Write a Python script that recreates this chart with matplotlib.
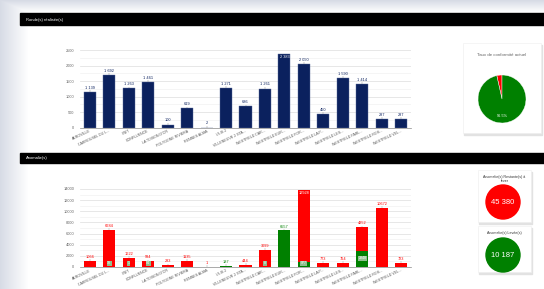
import numpy as np
import matplotlib.pyplot as plt
from matplotlib.patches import Rectangle, Circle

plt.rcParams['font.family'] = ['Liberation Sans', 'DejaVu Sans']

W, H = 544, 289

sites = ["AEROVILLE", "CARROUSEL DU L...", "CNIT", "CONFLUENCE", "LA TOISON D'OR",
         "POLYGONE RIVIERA", "RENNES ALMA", "ULIS 2", "VILLENEUVE 2 STA...",
         "WESTFIELD CAR...", "WESTFIELD EUR...", "WESTFIELD FOR...", "WESTFIELD LA P...",
         "WESTFIELD LES...", "WESTFIELD PARL...", "WESTFIELD ROS...", "WESTFIELD VEL..."]
rondes = [1139, 1692, 1263, 1461, 100, 619, 2, 1271, 686, 1261, 2383, 2050, 450, 1590, 1414, 287, 287]
anom_restantes = [1066, 6684, 1622, 934, 283, 1135, 1, 0, 444, 3099, 0, 12928, 773, 764, 4252, 10672, 723]
anom_levees = [0, 18, 1, 84, 0, 0, 0, 187, 0, 8, 6557, 977, 0, 0, 2848, 0, 0]
conformite = [3.5, 96.5]
total_restantes = "45 380"
total_levees = "10 187"

NAVY = "#0b215e"
RED = "#ff0000"
GREEN = "#008000"


def box(x0, y0, x1, y1):
    return [x0 / W, 1 - y1 / H, (x1 - x0) / W, (y1 - y0) / H]


def fmt(v):
    return f"{v:,}".replace(",", " ")


fig = plt.figure(figsize=(W / 100, H / 100), dpi=100)
bg = fig.add_axes([0, 0, 1, 1])
bg.set_xlim(0, W)
bg.set_ylim(H, 0)
bg.axis("off")

# fond flou a gauche / en haut
grad = np.ones((H, W, 4))
xs = np.clip(1 - np.arange(W) / 28.0, 0, 1)
ys = np.clip(1 - np.arange(H) / 12.0, 0, 1)
a = np.maximum(xs[None, :], ys[:, None]) * 0.55
grad[..., 0] = 0.72
grad[..., 1] = 0.75
grad[..., 2] = 0.82
grad[..., 3] = a
bg.imshow(grad, extent=[0, W, H, 0], aspect="auto", zorder=0)

# bandeaux noirs
bg.add_patch(Rectangle((20, 13), 524, 12, color="black", zorder=2))
bg.text(26, 19.5, "Ronde(s) réalisée(s)", color="white", fontsize=3, va="center", zorder=3)
bg.add_patch(Rectangle((20, 153), 524, 10, color="black", zorder=2))
bg.text(26, 158.5, "Anomalie(s)", color="white", fontsize=3, va="center", zorder=3)

# cartes
for (x0, y0, x1, y1) in [(463, 43, 541, 133), (478, 170, 531, 222), (478, 226, 531, 272)]:
    bg.add_patch(Rectangle((x0 + 1, y0 + 1.5), x1 - x0, y1 - y0, color="#e2e2e2", zorder=2))
    bg.add_patch(Rectangle((x0, y0), x1 - x0, y1 - y0, facecolor="white",
                           edgecolor="#eeeeee", lw=0.4, zorder=2))

bg.text(502, 55, "Taux de conformité actuel", fontsize=3.2, color="#666666",
        ha="center", va="center", zorder=3)
bg.text(504.5, 179, "Anomalie(s) Restante(s) à\nlever", fontsize=2.6, color="#333333",
        ha="center", va="center", linespacing=1.1, zorder=3)
bg.add_patch(Circle((503, 202), 17, color=RED, zorder=3))
bg.text(503, 202.5, total_restantes, fontsize=5.5, color="white", ha="center", va="center", zorder=4)
bg.text(504.5, 233, "Anomalie(s) Levée(s)", fontsize=2.6, color="#333333",
        ha="center", va="center", zorder=3)
bg.add_patch(Circle((503, 255), 17, color=GREEN, zorder=3))
bg.text(503, 255.5, total_levees, fontsize=5.5, color="white", ha="center", va="center", zorder=4)

x = np.arange(len(sites))


def style(ax, top, step):
    ax.set_xlim(-0.5, len(sites) - 0.5)
    ax.set_ylim(0, top)
    ax.set_yticks(np.arange(0, top + 1, step))
    ax.set_yticks(np.arange(step / 2, top, step), minor=True)
    ax.grid(axis="y", which="major", color="#dddddd", lw=0.5)
    ax.grid(axis="y", which="minor", color="#eeeeee", lw=0.4)
    ax.set_axisbelow(True)
    for s in ["top", "right", "left"]:
        ax.spines[s].set_visible(False)
    ax.spines["bottom"].set_color("#888888")
    ax.spines["bottom"].set_linewidth(0.5)
    ax.tick_params(axis="y", which="both", length=0, labelsize=2.8, labelcolor="#666666", pad=4)
    ax.tick_params(axis="x", length=0, labelsize=2.6, labelcolor="#555555", pad=1)
    ax.set_xticks(x)
    ax.set_xticklabels(sites, rotation=25, ha="right", rotation_mode="anchor")
    ax.patch.set_alpha(0)


# graphique des rondes
ax1 = fig.add_axes(box(80, 50, 411, 127.7))
style(ax1, 2500, 500)
ax1.bar(x, rondes, width=0.62, color=NAVY, edgecolor="#5b6b9a", lw=0.3)
for i, v in enumerate(rondes):
    if v > 2300:
        ax1.text(i, v - 30, fmt(v), fontsize=2.8, color="white", ha="center", va="top")
    else:
        ax1.vlines(i, v, v + 60, color="#888888", lw=0.3)
        ax1.text(i, v + 70, fmt(v), fontsize=2.8, color=NAVY, ha="center", va="bottom")

# graphique des anomalies
ax2 = fig.add_axes(box(80, 189, 411, 267))
style(ax2, 14000, 2000)
lev = np.array(anom_levees)
rest = np.array(anom_restantes)
ax2.bar(x, lev, width=0.62, color=GREEN)
ax2.bar(x, rest, width=0.62, bottom=lev, color=RED)
for i in range(len(sites)):
    tot = lev[i] + rest[i]
    if rest[i] > 0:
        if tot > 13000:
            ax2.text(i, tot - 200, str(rest[i]), fontsize=2.8, color="white", ha="center", va="top")
        else:
            ax2.vlines(i, tot, tot + 300, color="#999999", lw=0.3)
            ax2.text(i, tot + 350, str(rest[i]), fontsize=2.8, color=RED, ha="center", va="bottom")
        if lev[i] > 0:
            ax2.text(i, max(lev[i] * 0.55, 700), str(lev[i]), fontsize=2.6, color="white",
                     ha="center", va="center",
                     bbox=dict(boxstyle="square,pad=0.15", fc="#8fbf8f", ec="none"))
    elif lev[i] > 0:
        ax2.vlines(i, tot, tot + 300, color="#999999", lw=0.3)
        ax2.text(i, tot + 350, str(lev[i]), fontsize=2.8, color=GREEN, ha="center", va="bottom")

# camembert de conformite
ax3 = fig.add_axes(box(472, 69, 532, 129))
ax3.pie(conformite, colors=[RED, GREEN], startangle=90, counterclock=True,
        wedgeprops=dict(edgecolor="white", linewidth=0.3))
ax3.text(0, -0.72, f"{conformite[1]}%", fontsize=2.8, color="white", ha="center", va="center")
ax3.set_aspect("equal")

fig.savefig("out.png", dpi=100)
